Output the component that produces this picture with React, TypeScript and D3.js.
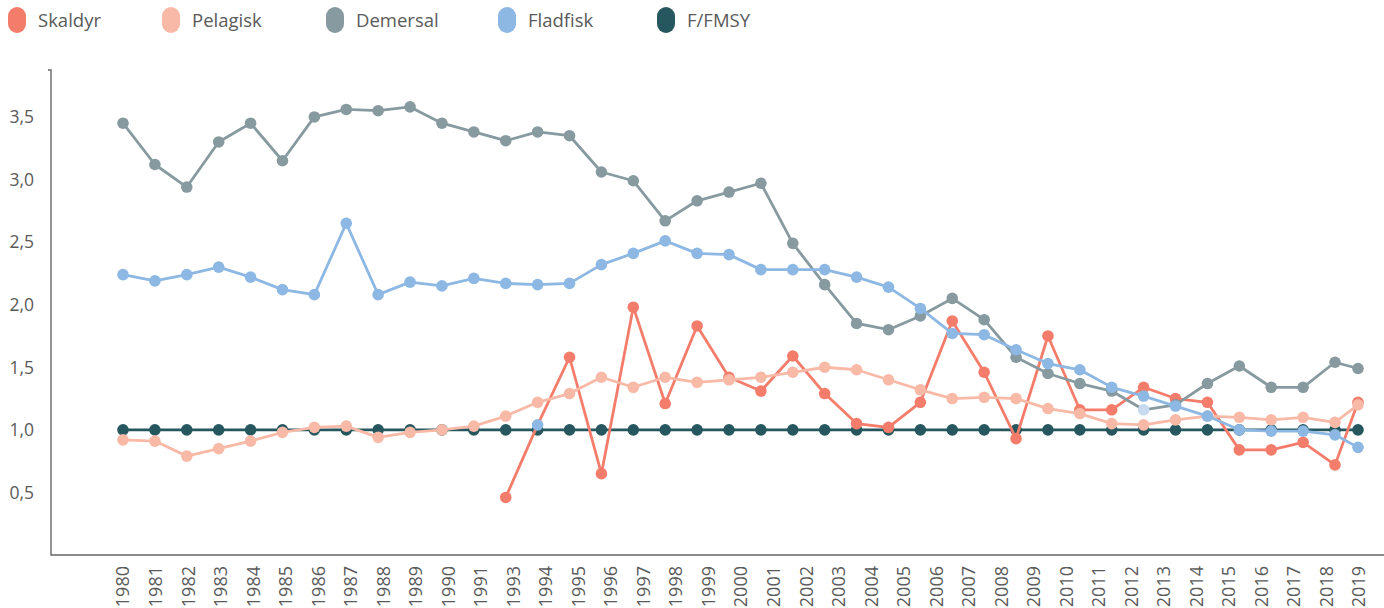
import React from 'react';
import * as d3 from 'd3';

// categories: one dot per year, 1980-2019
const years = d3.range(1980, 2020);

// the printed axis labels (1992 is not printed in the source)
const xLabels = [
  '1980', '1981', '1982', '1983', '1984', '1985', '1986', '1987', '1988', '1989',
  '1990', '1991', '1993', '1994', '1995', '1996', '1997', '1998', '1999', '2000',
  '2001', '2002', '2003', '2004', '2005', '2006', '2007', '2008', '2009', '2010',
  '2011', '2012', '2013', '2014', '2015', '2016', '2017', '2018', '2019',
];

const yTicks = [0.5, 1, 1.5, 2, 2.5, 3, 3.5];

const skaldyr = [
  null, null, null, null, null, null, null, null, null, null,
  null, null, 0.46, 1.04, 1.58, 0.65, 1.98, 1.21, 1.83, 1.42,
  1.31, 1.59, 1.29, 1.05, 1.02, 1.22, 1.87, 1.46, 0.93, 1.75,
  1.16, 1.16, 1.34, 1.25, 1.22, 0.84, 0.84, 0.90, 0.72, 1.22,
];
const pelagisk = [
  0.92, 0.91, 0.79, 0.85, 0.91, 0.98, 1.02, 1.03, 0.94, 0.98,
  1.00, 1.03, 1.11, 1.22, 1.29, 1.42, 1.34, 1.42, 1.38, 1.40,
  1.42, 1.46, 1.50, 1.48, 1.40, 1.32, 1.25, 1.26, 1.25, 1.17,
  1.13, 1.05, 1.04, 1.08, 1.11, 1.10, 1.08, 1.10, 1.06, 1.20,
];
const demersal = [
  3.45, 3.12, 2.94, 3.30, 3.45, 3.15, 3.50, 3.56, 3.55, 3.58,
  3.45, 3.38, 3.31, 3.38, 3.35, 3.06, 2.99, 2.67, 2.83, 2.90,
  2.97, 2.49, 2.16, 1.85, 1.80, 1.91, 2.05, 1.88, 1.58, 1.45,
  1.37, 1.31, 1.16, 1.20, 1.37, 1.51, 1.34, 1.34, 1.54, 1.49,
];
const fladfisk = [
  2.24, 2.19, 2.24, 2.30, 2.22, 2.12, 2.08, 2.65, 2.08, 2.18,
  2.15, 2.21, 2.17, 2.16, 2.17, 2.32, 2.41, 2.51, 2.41, 2.40,
  2.28, 2.28, 2.28, 2.22, 2.14, 1.97, 1.77, 1.76, 1.64, 1.53,
  1.48, 1.34, 1.27, 1.19, 1.11, 1.00, 0.99, 0.99, 0.96, 0.86,
];
const fmsy = [
  1, 1, 1, 1, 1, 1, 1, 1, 1, 1,
  1, 1, 1, 1, 1, 1, 1, 1, 1, 1,
  1, 1, 1, 1, 1, 1, 1, 1, 1, 1,
  1, 1, 1, 1, 1, 1, 1, 1, 1, 1,
];

const series = [
  { name: 'Skaldyr', values: skaldyr, color: '#F47C6B' },
  { name: 'Pelagisk', values: pelagisk, color: '#F9B9A7' },
  { name: 'Demersal', values: demersal, color: '#879AA0' },
  { name: 'Fladfisk', values: fladfisk, color: '#8DB8E3' },
  { name: 'F/FMSY', values: fmsy, color: '#26575F' },
];

// single dots that the source paints in another colour
const dotColors = [
  { name: 'Skaldyr', year: 1993, color: '#8DB8E3' },
  { name: 'Demersal', year: 2012, color: '#C7DAEF' },
];

// draw order, bottom first
const drawOrder = ['F/FMSY', 'Skaldyr', 'Pelagisk', 'Demersal', 'Fladfisk'];
const legendX = [8, 162, 326, 498, 657];

const W = 1384;
const H = 608;
const axisX = 51;
const axisY = 555;
const font = '"Open Sans", Lato, sans-serif';
const textColor = '#5a5a5a';

export default function App() {
  // dots: the last year sits closer to its neighbour in the source
  const x = d3.scaleLinear().domain([1980, 2018, 2019]).range([123, 1335, 1358]);
  const xLab = d3.scalePoint().domain(xLabels).range([123, 1359]);
  const y = d3.scaleLinear().domain([0, 3.875]).range([axisY, 70]);
  const fmt = d3.formatLocale({ decimal: ',', thousands: '.', grouping: [3], currency: ['', ''] }).format('.1f');

  const line = d3.line<any>()
    .defined(d => d.v != null)
    .x(d => x(d.year))
    .y(d => y(d.v));

  const drawSeries = (s) => {
    const pts = years.map((year, i) => ({ year, v: s.values[i] }));
    return (
      <g key={s.name}>
        <path d={line(pts)} fill='none' stroke={s.color} strokeWidth={2.8} strokeLinejoin='round' />
        {pts.filter(p => p.v != null).map(p => {
          const o = dotColors.find(c => c.name === s.name && c.year === p.year);
          return <circle key={p.year} cx={x(p.year)} cy={y(p.v)} r={5.8} fill={o ? o.color : s.color} />;
        })}
      </g>
    );
  };

  return (
    <svg width={W} height={H} style={{ position: 'absolute', left: 0, top: 0, fontFamily: font }}>
      <rect width={W} height={H} fill='#ffffff' />

      {/* legend */}
      {series.map((s, i) => (
        <g key={s.name} transform={`translate(${legendX[i]},0)`}>
          <rect x={0} y={7} width={18} height={26} rx={9} fill={s.color} />
          <text x={30} y={27} fontSize={18.5} fill={textColor}>{s.name}</text>
        </g>
      ))}

      {/* axes */}
      <path d={`M${axisX - 3},70H${axisX}V${axisY}H${W}`} fill='none' stroke='#666' strokeWidth={1.4} />
      {yTicks.map(t => (
        <text key={t} x={34} y={y(t)} dy='0.36em' textAnchor='end' fontSize={17.5} fill={textColor}>{fmt(t)}</text>
      ))}
      {xLabels.map(l => (
        <text key={l} transform={`translate(${xLab(l)},566) rotate(-90)`} dy='0.36em' textAnchor='end' fontSize={18} fill={textColor}>{l}</text>
      ))}

      {/* series */}
      {drawOrder.map(n => drawSeries(series.find(s => s.name === n)))}
    </svg>
  );
}
